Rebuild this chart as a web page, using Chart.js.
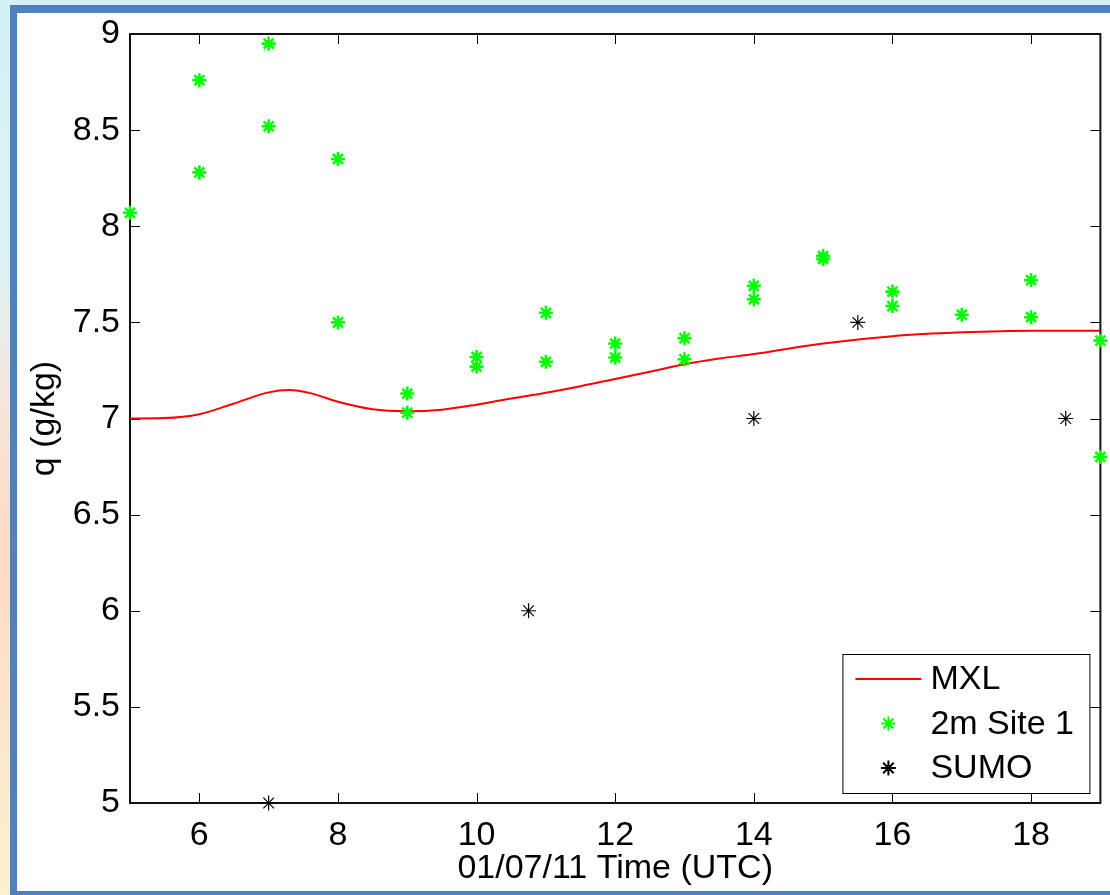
<!DOCTYPE html>
<html>
<head>
<meta charset="utf-8">
<title>q (g/kg)</title>
<script src="https://cdn.jsdelivr.net/npm/chart.js@4/dist/chart.umd.min.js"></script>
<style>
  html, body { margin: 0; padding: 0; width: 1110px; height: 895px; overflow: hidden; }
  body {
    background: linear-gradient(to bottom, #d4f1f6 0%, #dcf3f5 30%, #f6e6dc 45%, #fcdcc4 60%, #fde4c9 78%, #fbf1cf 100%);
  }
  #frame {
    position: absolute; left: 10px; top: 5px;
    width: 1120px; height: 878px;
    border-left: 7px solid #4f81bd; border-top: 8px solid #4f81bd; border-bottom: 8px solid #4f81bd;
    background: #fff;
  }
  #chart { position: absolute; left: 0; top: 0; }
</style>
</head>
<body>
<div id="frame"></div>
<canvas id="chart" width="1110" height="895"></canvas>
<script>
// MXL model run
const mxlTime = [5, 5.5, 6, 6.5, 7, 7.3, 7.6, 8, 8.5, 9, 9.5, 10, 10.5, 11, 11.5, 12, 12.5, 13, 13.5, 14, 15, 16, 17, 18, 19];
const mxlQ = [7.000, 7.002, 7.022, 7.078, 7.136, 7.148, 7.132, 7.087, 7.048, 7.038, 7.046, 7.072, 7.104, 7.134, 7.168, 7.206, 7.243, 7.282, 7.312, 7.335, 7.390, 7.428, 7.448, 7.457, 7.457];

// 2m Site 1 observations
const siteTime = [5, 6, 6, 7, 7, 8, 8, 9, 9, 10, 10, 11, 11, 12, 12, 13, 13, 14, 14, 15, 15, 16, 16, 17, 18, 18, 19, 19];
const siteQ = [8.07, 8.76, 8.28, 8.95, 8.52, 8.35, 7.50, 7.13, 7.03, 7.32, 7.27, 7.55, 7.295, 7.39, 7.317, 7.418, 7.308, 7.69, 7.62, 7.845, 7.83, 7.66, 7.585, 7.54, 7.72, 7.527, 7.405, 6.80];

// SUMO
const sumoTime = [7, 10.75, 14, 15.5, 18.5];
const sumoQ = [5.0, 6.0, 7.0, 7.5, 7.0];

const xTicks = [6, 8, 10, 12, 14, 16, 18];
const yTicks = [5, 5.5, 6, 6.5, 7, 7.5, 8, 8.5, 9];

const font = { family: "'Liberation Sans', Arial, sans-serif", size: 34 };
const toPoints = (xs, ys) => xs.map((x, i) => ({ x: x, y: ys[i] }));

// box round the axes, ticks pointing inward on all four sides
const boxTicks = {
  id: "boxTicks",
  beforeDatasetsDraw(chart) {
    const { ctx, chartArea: a, scales: { x, y } } = chart;
    ctx.save();
    ctx.strokeStyle = "#000";
    ctx.lineWidth = 1;
    ctx.beginPath();
    x.ticks.forEach(t => {
      const px = Math.round(x.getPixelForValue(t.value)) + 0.5;
      ctx.moveTo(px, a.bottom); ctx.lineTo(px, a.bottom - 10);
      ctx.moveTo(px, a.top); ctx.lineTo(px, a.top + 10);
    });
    y.ticks.forEach(t => {
      const py = Math.round(y.getPixelForValue(t.value)) + 0.5;
      ctx.moveTo(a.left, py); ctx.lineTo(a.left + 10, py);
      ctx.moveTo(a.right, py); ctx.lineTo(a.right - 10, py);
    });
    ctx.stroke();
    ctx.lineWidth = 2;
    ctx.strokeStyle = "#111";
    ctx.strokeRect(a.left, a.top, a.right - a.left, a.bottom - a.top);
    ctx.restore();
  }
};

// legend box in the lower right corner, like the MATLAB one
const matLegend = {
  id: "matLegend",
  afterDraw(chart) {
    const { ctx, chartArea: a } = chart;
    const ds = chart.data.datasets;
    const w = 247, h = 139;
    const bx = a.right - 11 - w, by = a.bottom - 10 - h;
    ctx.save();
    ctx.fillStyle = "#fff";
    ctx.fillRect(bx, by, w, h);
    ctx.strokeStyle = "#000";
    ctx.lineWidth = 1;
    ctx.strokeRect(bx + 0.5, by + 0.5, w, h);
    ctx.font = font.size + "px " + font.family;
    ctx.textBaseline = "middle";
    ds.forEach((d, i) => {
      const ry = by + 25 + i * 44.5;
      if (d.showLine) {
        ctx.strokeStyle = d.borderColor;
        ctx.lineWidth = d.borderWidth;
        ctx.beginPath();
        ctx.moveTo(bx + 13, ry); ctx.lineTo(bx + 79, ry);
        ctx.stroke();
      } else {
        ctx.strokeStyle = d.borderColor;
        ctx.fillStyle = d.borderColor;
        Chart.helpers.drawPoint(ctx, { pointStyle: d.pointStyle, radius: d.pointRadius, borderWidth: d.borderWidth, rotation: 0 }, bx + 46, ry);
      }
      ctx.fillStyle = "#000";
      ctx.fillText(d.label, bx + 88, ry + 1);
    });
    ctx.restore();
  }
};

const ctx = document.getElementById("chart").getContext("2d");
new Chart(ctx, {
  type: "scatter",
  data: {
    datasets: [
      {
        label: "MXL",
        data: toPoints(mxlTime, mxlQ),
        showLine: true,
        borderColor: "#ff0000",
        borderWidth: 2,
        pointRadius: 0,
        cubicInterpolationMode: "monotone",
        order: 3,
      },
      {
        label: "2m Site 1",
        data: toPoints(siteTime, siteQ),
        pointStyle: "star",
        pointRadius: 7,
        borderWidth: 2.6,
        borderColor: "#00ff00",
        backgroundColor: "#00ff00",
        clip: false,
        order: 2,
      },
      {
        label: "SUMO",
        data: toPoints(sumoTime, sumoQ),
        pointStyle: "star",
        pointRadius: 7.5,
        borderWidth: 1.2,
        borderColor: "#000",
        backgroundColor: "#000",
        clip: false,
        order: 1,
      },
    ],
  },
  options: {
    responsive: false,
    animation: false,
    layout: { padding: { top: 34, right: 6, left: 0, bottom: 0 } },
    plugins: { legend: { display: false }, tooltip: { enabled: false } },
    scales: {
      x: {
        type: "linear",
        min: 5,
        max: 19,
        afterBuildTicks: s => { s.ticks = xTicks.map(v => ({ value: v })); },
        afterFit: s => { s.height = 92; },
        grid: { display: false, drawTicks: false },
        border: { display: false },
        ticks: { font: font, color: "#000", padding: 12, maxRotation: 0, autoSkip: false, callback: v => String(v) },
        title: { display: true, text: "01/07/11 Time (UTC)", font: font, color: "#000", padding: { top: 0, bottom: 6 } },
      },
      y: {
        type: "linear",
        min: 5,
        max: 9,
        afterBuildTicks: s => { s.ticks = yTicks.map(v => ({ value: v })); },
        afterFit: s => { s.width = 130; },
        grid: { display: false, drawTicks: false },
        border: { display: false },
        ticks: { font: font, color: "#000", padding: 10, autoSkip: false, callback: v => String(v) },
        title: { display: true, text: "q (g/kg)", font: font, color: "#000", padding: { top: 24, bottom: 0 } },
      },
    },
  },
  plugins: [boxTicks, matLegend],
});
</script>
</body>
</html>
